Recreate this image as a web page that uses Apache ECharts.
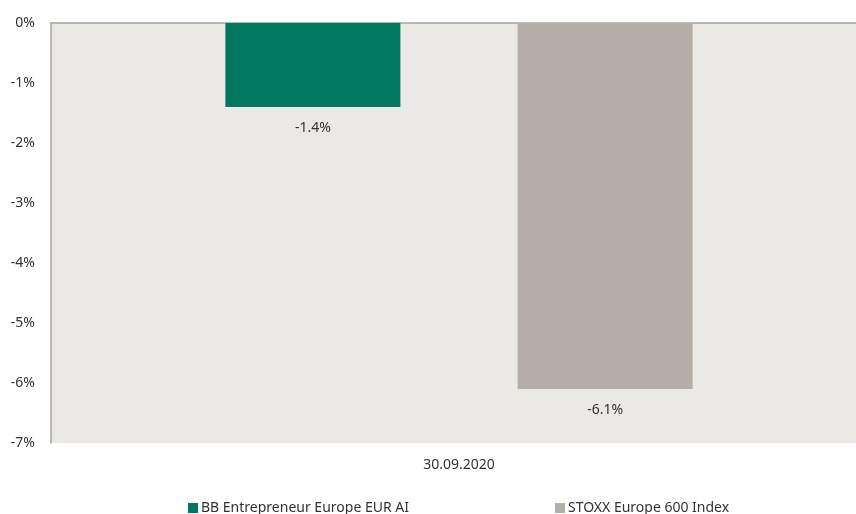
<!DOCTYPE html>
<html>
<head>
<meta charset="utf-8">
<script src="https://cdn.jsdelivr.net/npm/echarts@6/dist/echarts.min.js"></script>
<style>
  html, body { margin: 0; padding: 0; background: #fff; }
  #chart { width: 856px; height: 514px; }
</style>
</head>
<body>
<div id="chart"></div>
<script>
const categories = ['30.09.2020']
const fundName = 'BB Entrepreneur Europe EUR AI'
const indexName = 'STOXX Europe 600 Index'
const fundValues = [-1.4]
const indexValues = [-6.1]
const yMin = -7
const yMax = 0

const textColor = '#333333'
const font = 'Noto Sans'
const fs = 14

const chartInstance = echarts.init(document.getElementById('chart'))

const labelOpt = {
  show: true,
  position: 'bottom',
  distance: 14,
  color: textColor,
  fontFamily: font,
  fontSize: fs,
  formatter: (p) => p.value.toFixed(1) + '%'
}

const option = {
  backgroundColor: '#fff',
  animation: false,
  textStyle: { fontFamily: font },
  grid: {
    left: 51,
    right: -11,
    top: 23,
    bottom: 71,
    outerBoundsMode: 'none',
    show: true,
    backgroundColor: '#EBE9E5',
    borderWidth: 0
  },
  legend: [
    {
      data: [fundName],
      left: 183,
      top: 496,
      itemWidth: 10,
      itemHeight: 10,
      itemGap: 8,
      icon: 'rect',
      textStyle: { color: textColor, fontSize: fs, fontFamily: font, padding: [0, 0, 0, -2] }
    },
    {
      data: [indexName],
      left: 550,
      top: 496,
      itemWidth: 10,
      itemHeight: 10,
      icon: 'rect',
      textStyle: { color: textColor, fontSize: fs, fontFamily: font, padding: [0, 0, 0, -2] }
    }
  ],
  xAxis: [
    {
      type: 'category',
      data: categories,
      position: 'bottom',
      axisLine: { show: false },
      axisTick: { show: false },
      axisLabel: { color: textColor, fontSize: fs, fontFamily: font, margin: 15 }
    },
    {
      type: 'category',
      data: categories,
      position: 'top',
      axisLine: { show: true, lineStyle: { color: '#A3A3A3', width: 1.5 } },
      axisTick: { show: false },
      axisLabel: { show: false }
    }
  ],
  yAxis: {
    type: 'value',
    min: yMin,
    max: yMax,
    interval: 1,
    axisLine: { show: true, lineStyle: { color: '#A3A3A3', width: 1.5 } },
    axisTick: { show: false },
    splitLine: { show: false },
    axisLabel: {
      color: textColor,
      fontSize: fs,
      fontFamily: font,
      margin: 16,
      formatter: (v) => v + '%'
    }
  },
  series: [
    {
      name: fundName,
      type: 'bar',
      data: fundValues,
      barWidth: 175,
      barGap: '67%',
      itemStyle: { color: '#00775F' },
      label: labelOpt
    },
    {
      name: indexName,
      type: 'bar',
      data: indexValues,
      barWidth: 175,
      itemStyle: { color: '#B5ADA8' },
      label: labelOpt
    }
  ]
}

chartInstance.setOption(option)
window.addEventListener('resize', () => chartInstance.resize())
</script>
</body>
</html>
